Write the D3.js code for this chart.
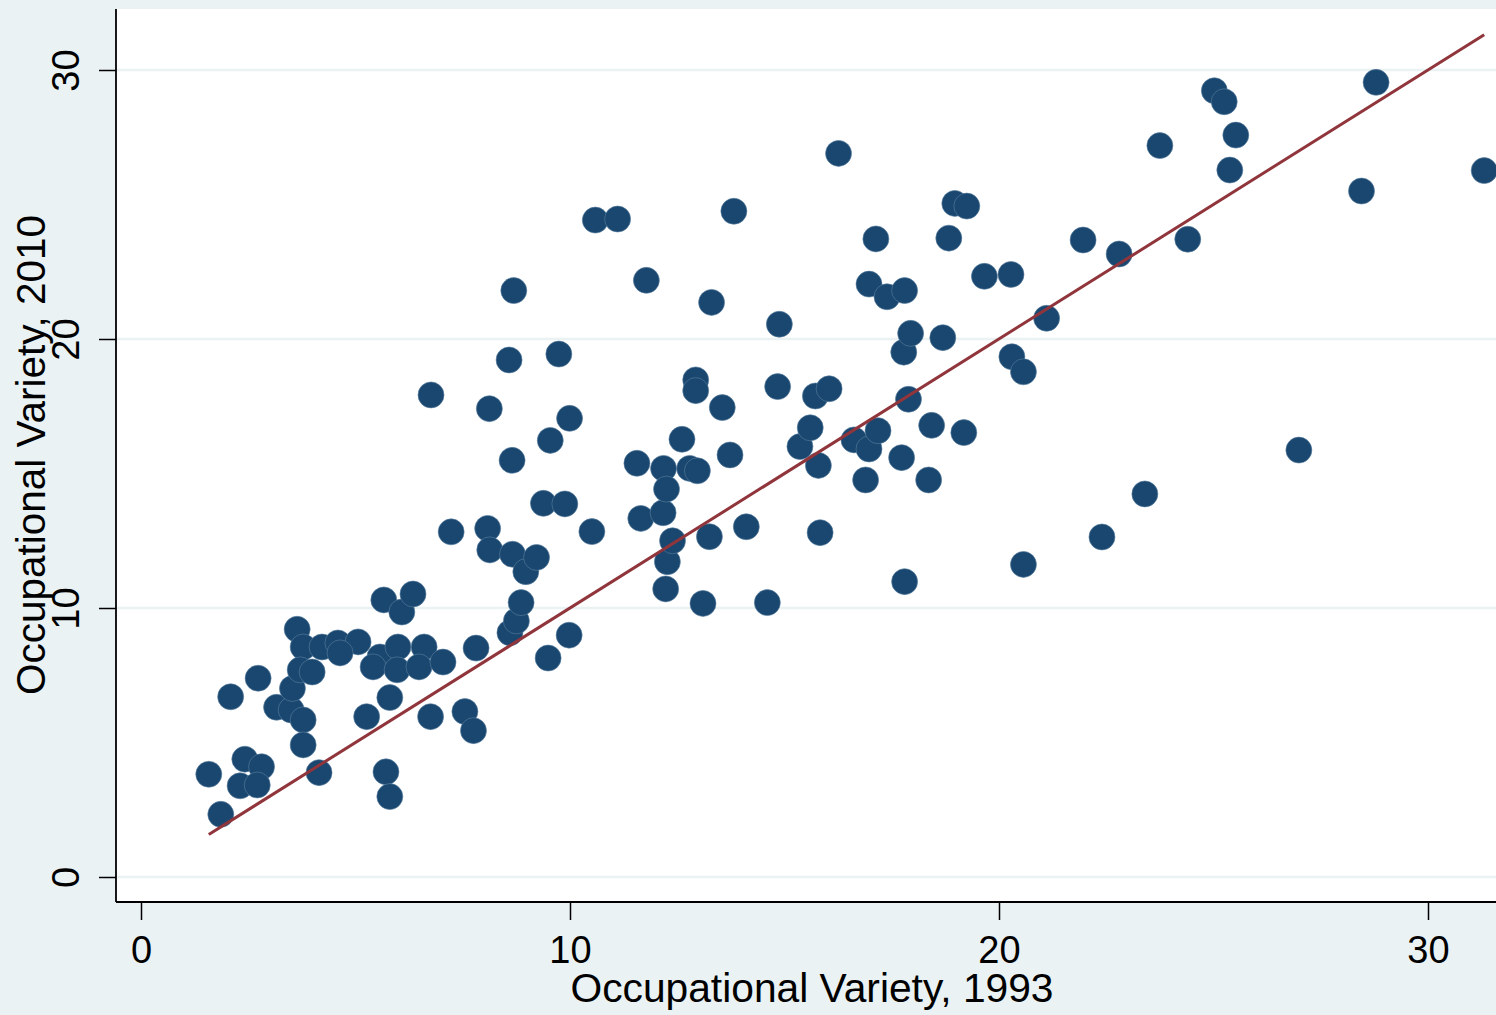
<!DOCTYPE html>
<html>
<head>
<meta charset="utf-8">
<script src="https://cdn.jsdelivr.net/npm/d3@7"></script>
<style>
  html, body { margin: 0; padding: 0; background: #eaf2f3; }
  svg { display: block; font-family: "Liberation Sans", Arial, sans-serif; }
</style>
</head>
<body>
<svg id="chart" width="1496" height="1015"></svg>
<script>
// occupational variety per unit, 1993 vs 2010
const variety1993 = [
  1.58, 1.86, 2.09, 2.42, 2.31, 2.73, 2.81, 2.71, 3.16, 3.50,
  3.53, 3.78, 3.78, 4.15, 3.64, 3.78, 4.22, 4.59, 5.06, 4.64,
  3.71, 3.99, 5.57, 5.99, 6.60, 5.41, 5.97, 6.48, 7.04, 5.26,
  5.80, 6.75, 7.55, 7.75, 5.71, 5.80, 5.66, 6.08, 6.34, 7.81,
  6.76, 7.23, 8.08, 8.13, 8.12, 8.58, 8.65, 8.69, 8.66, 8.60,
  8.75, 8.86, 8.97, 9.22, 9.38, 9.88, 9.49, 9.54, 9.74, 9.99,
  9.98, 10.51, 10.59, 11.11, 11.56, 11.65, 11.78, 12.17, 12.18, 12.25,
  12.27, 12.23, 12.39, 12.61, 12.79, 12.93, 12.93, 12.97, 13.10, 13.25,
  13.30, 13.55, 13.73, 13.82, 14.11, 14.60, 14.84, 14.88, 15.36, 15.60,
  15.72, 15.79, 15.83, 16.04, 16.26, 16.62, 16.89, 16.97, 16.97, 17.13,
  17.18, 17.39, 17.73, 17.78, 17.80, 17.80, 17.89, 17.94, 18.36, 18.43,
  18.69, 18.83, 18.97, 19.25, 19.18, 19.66, 20.28, 20.30, 20.57, 20.57,
  21.11, 21.96, 22.40, 22.80, 23.40, 23.75, 24.40, 25.02, 25.25, 25.38,
  25.52, 26.99, 28.45, 28.79, 31.31
];
const variety2010 = [
  3.82, 2.33, 6.70, 4.38, 3.39, 7.39, 4.10, 3.42, 6.31, 6.21,
  7.01, 5.84, 4.91, 3.88, 9.21, 8.55, 8.55, 8.70, 8.74, 8.33,
  7.70, 7.62, 8.18, 8.55, 8.55, 7.81, 7.70, 7.81, 7.99, 5.96,
  6.67, 5.96, 6.15, 5.44, 3.91, 2.99, 10.30, 9.85, 10.52, 8.51,
  17.92, 12.83, 12.96, 12.16, 17.41, 19.22, 15.49, 21.80, 12.00, 9.08,
  9.52, 10.20, 11.35, 11.88, 13.89, 13.87, 8.14, 16.23, 19.44, 17.05,
  8.99, 12.84, 24.42, 24.46, 15.38, 13.33, 22.18, 13.54, 15.19, 14.42,
  11.72, 10.71, 12.50, 16.27, 15.19, 18.48, 18.08, 15.10, 10.17, 12.65,
  21.36, 17.45, 15.69, 24.75, 13.02, 10.20, 18.23, 20.55, 16.00, 16.70,
  17.88, 15.30, 12.80, 18.15, 26.90, 16.25, 14.76, 22.04, 15.91, 23.72,
  16.59, 21.57, 15.59, 19.51, 21.80, 10.98, 17.76, 20.21, 14.76, 16.79,
  20.05, 23.75, 25.04, 24.94, 16.52, 22.33, 22.40, 19.34, 18.78, 11.62,
  20.77, 23.68, 12.64, 23.16, 14.24, 27.19, 23.71, 29.23, 28.82, 26.28,
  27.58, 15.87, 25.50, 29.54, 26.26
];
// 45 degree reference line, drawn across the range of 1993 values
const refLineX = [1.58, 31.31];
const refLineY = [1.58, 31.31];
const xTicks = [0, 10, 20, 30];
const yTicks = [0, 10, 20, 30];

const svg = d3.select("#chart");
const W = 1496, H = 1015;
const plot = { left: 116, right: 1496, top: 9, bottom: 902 };

const xScale = d3.scaleLinear().domain([0, 30]).range([141, 1428]);
const yScale = d3.scaleLinear().domain([0, 30]).range([877, 70]);

svg.append("rect").attr("width", W).attr("height", H).attr("fill", "#eaf2f3");
svg.append("rect")
  .attr("x", plot.left).attr("y", plot.top)
  .attr("width", plot.right - plot.left).attr("height", plot.bottom - plot.top)
  .attr("fill", "#ffffff");

// gridlines
svg.append("g").selectAll("line").data(yTicks).join("line")
  .attr("x1", plot.left).attr("x2", plot.right)
  .attr("y1", d => yScale(d)).attr("y2", d => yScale(d))
  .attr("stroke", "#eaf2f3").attr("stroke-width", 2.5);

// y axis
const yAxis = d3.axisLeft(yScale).tickValues(yTicks).tickSize(17).tickPadding(16);
const gy = svg.append("g").attr("transform", `translate(${plot.left},0)`).call(yAxis);
gy.select(".domain").remove();
gy.selectAll(".tick line").attr("stroke", "#000").attr("stroke-width", 1.5);
gy.selectAll(".tick text")
  .attr("font-size", 38).attr("fill", "#000")
  .attr("text-anchor", "middle")
  .attr("x", 0).attr("dy", 0)
  .attr("transform", "translate(-47,0) rotate(-90)")
  .attr("dominant-baseline", "middle")
  .attr("y", 0);

// x axis
const xAxis = d3.axisBottom(xScale).tickValues(xTicks).tickSize(18).tickPadding(7);
const gx = svg.append("g").attr("transform", `translate(0,${plot.bottom})`).call(xAxis);
gx.select(".domain").remove();
gx.selectAll(".tick line").attr("stroke", "#000").attr("stroke-width", 1.5);
gx.selectAll(".tick text").attr("font-size", 38).attr("fill", "#000").attr("dy", "0.95em");

// axis lines
svg.append("line").attr("x1", plot.left).attr("x2", plot.left)
  .attr("y1", plot.top).attr("y2", plot.bottom)
  .attr("stroke", "#000").attr("stroke-width", 1.8);
svg.append("line").attr("x1", plot.left).attr("x2", plot.right)
  .attr("y1", plot.bottom).attr("y2", plot.bottom)
  .attr("stroke", "#000").attr("stroke-width", 1.8);

// points
const points = variety1993.map((x, i) => ({ x, y: variety2010[i] }));
svg.append("g").selectAll("circle").data(points).join("circle")
  .attr("cx", d => xScale(d.x)).attr("cy", d => yScale(d.y))
  .attr("r", 13)
  .attr("fill", "#1a476f")
  .attr("stroke", "#5a7fa0").attr("stroke-width", 0.6);

// reference line
const line = d3.line().x(d => xScale(d[0])).y(d => yScale(d[1]));
svg.append("path")
  .datum(refLineX.map((x, i) => [x, refLineY[i]]))
  .attr("d", line)
  .attr("fill", "none").attr("stroke", "#90353b").attr("stroke-width", 3);

// axis titles
svg.append("text")
  .attr("x", 812).attr("y", 1002)
  .attr("text-anchor", "middle").attr("font-size", 40).attr("fill", "#000")
  .attr("textLength", 483).attr("lengthAdjust", "spacingAndGlyphs")
  .text("Occupational Variety, 1993");
svg.append("text")
  .attr("transform", "translate(45,455) rotate(-90)")
  .attr("text-anchor", "middle").attr("font-size", 40).attr("fill", "#000")
  .attr("textLength", 480).attr("lengthAdjust", "spacingAndGlyphs")
  .text("Occupational Variety, 2010");
</script>
</body>
</html>
